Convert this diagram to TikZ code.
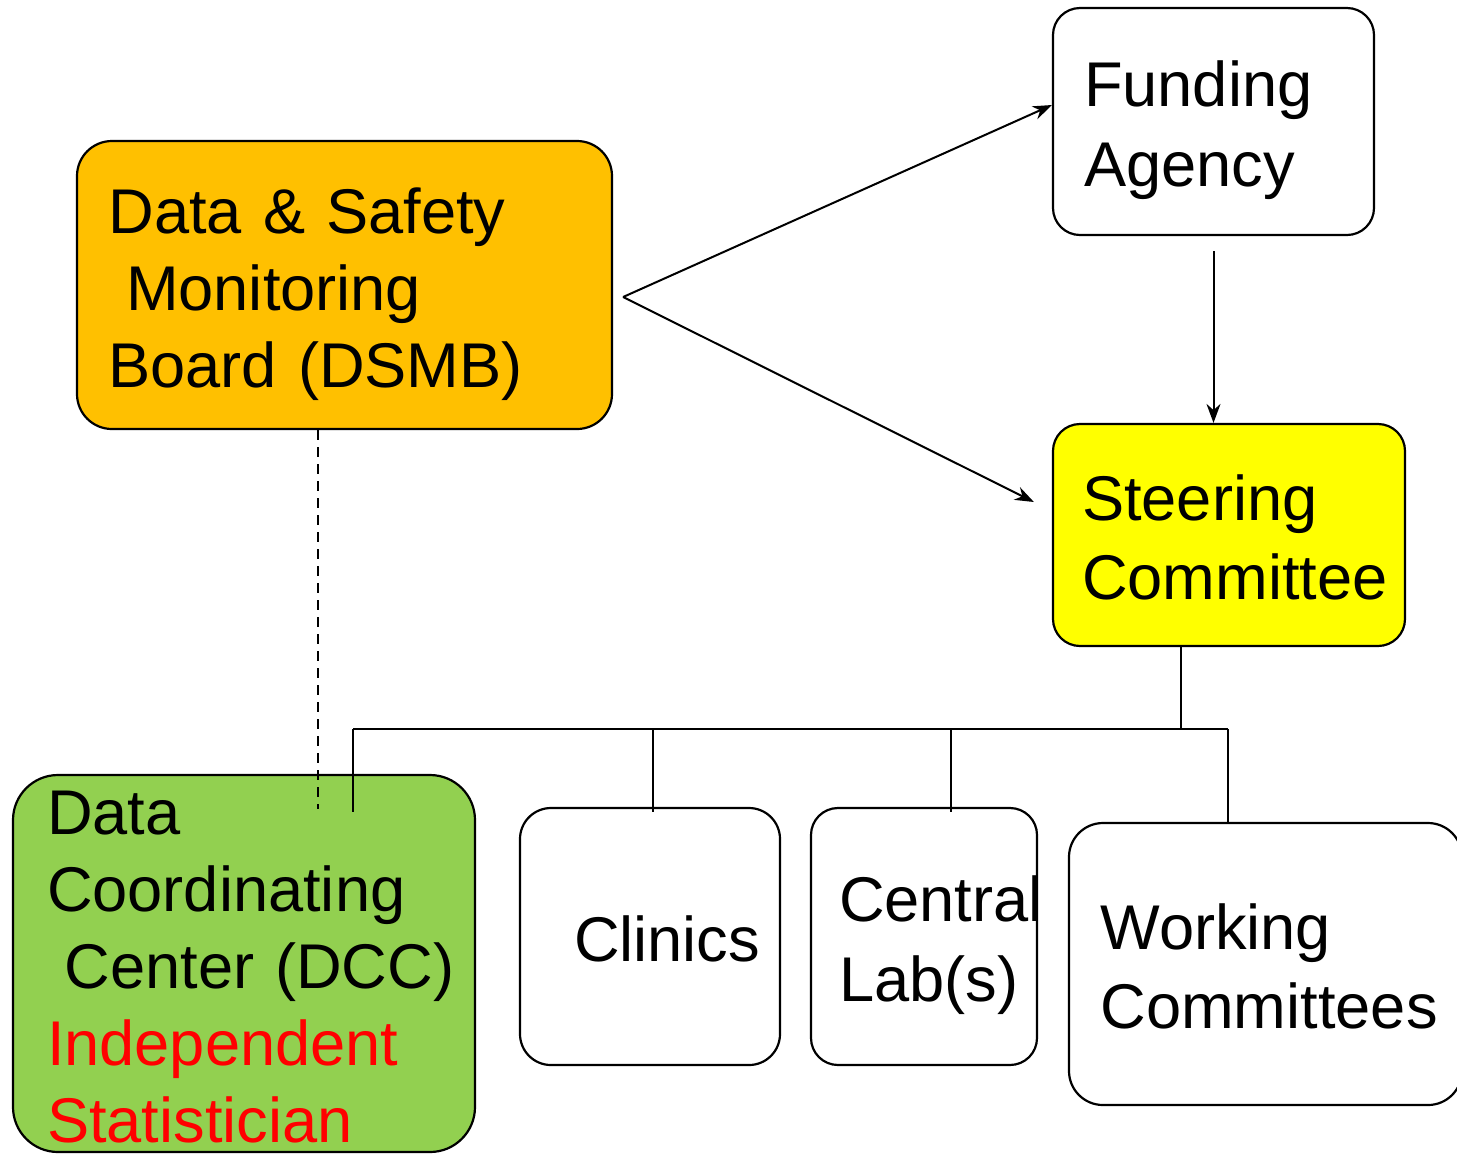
\documentclass[tikz,border=0pt]{standalone}
\usepackage{fontspec}
\setmainfont{Liberation Sans}
\usetikzlibrary{arrows.meta}
\definecolor{dsmbC}{HTML}{FFC000}
\definecolor{steerC}{HTML}{FFFF00}
\definecolor{dccC}{HTML}{92D050}
\definecolor{statC}{HTML}{FF0000}
\newcommand\ppstrut{\rule[-6.8pt]{0pt}{38.7pt}}
\tikzset{
    RB/.style ={rectangle, rounded corners=13.5pt, draw, line width=1.1pt, align=left, inner sep=0pt,
                font=\fontsize{31.6}{38.5}\selectfont,
                execute at begin node=\ppstrut, execute at end node=\ppstrut},
    AR/.style ={-{Stealth[length=9.5pt,width=7pt]}, line width=1pt},
    LN/.style ={line width=1pt}}
\begin{document}
\begin{tikzpicture}[x=0.5pt,y=-0.5pt]
        \useasboundingbox (0,0) rectangle (1457,1153);
        \clip (0,0) rectangle (1457,1153);
        \node[RB, fill=dsmbC, rounded corners=17.5pt, minimum width=267.5pt, minimum height=144pt, text width=236pt]
            (dsmb) at (344.5,285) {\mbox{Data \& Safety}\\\hspace*{0.278em}Monitoring\\\mbox{Board (DSMB)}};
        \node[RB, fill=white, minimum width=160.5pt, minimum height=113.5pt, text width=129.5pt]
            (funding) at (1213.5,121.5) {Funding\\Agency};
        \node[RB, fill=steerC, minimum width=176pt, minimum height=111pt, text width=147pt]
            (steering) at (1229,535) {Steering\\Committee};
        \node[RB, fill=dccC, rounded corners=22.5pt, inner ysep=-6pt, minimum width=231pt, minimum height=188.5pt, text width=197pt]
            (dcc) at (244,963.5) {Data\\Coordinating\\\hspace*{0.278em}\mbox{Center (DCC)}\\\textcolor{statC}{Independent}\\\textcolor{statC}{Statistician}};
        \node[RB, fill=white, rounded corners=15.5pt, minimum width=130pt, minimum height=128.5pt, text width=76pt]
            (clinics) at (650,936.5) {Clinics};
        \node[RB, fill=white, minimum width=113pt, minimum height=128.5pt, text width=85pt]
            (labs) at (924,936.5) {Central\\Lab(s)};
        \node[RB, fill=white, rounded corners=17pt, minimum width=196.5pt, minimum height=141pt, text width=165pt]
            (working) at (1265.5,964) {Working\\Committees};
        % DSMB reports
        \coordinate (fork) at ([shift={(10,12)}]dsmb.east);
        \draw[AR] (fork) -- ([yshift=8.25pt]funding.west);
        \draw[AR] (fork) -- ([shift={(-18,-33)}]steering.west);
        \draw[AR] ([yshift=-7.5pt]funding.south) -- (funding.south |- steering.north);
        \draw[LN, dashed, dash pattern=on 5pt off 3.5pt] ([xshift=-13.25pt]dsmb.south) -- ++(0,379);
        % tree below the steering committee
        \coordinate (bus) at (1181,729);
        \coordinate (jdcc) at (353,729);
        \coordinate (jclin) at (653,729);
        \coordinate (jlab) at (951,729);
        \coordinate (jwork) at (1228,729);
        \draw[LN] (steering.south -| bus) -- (bus);
        \draw[LN] (jdcc) -- (jwork);
        \draw[LN] (jdcc) -- ++(0,83);
        \draw[LN] (jclin) -- ++(0,83);
        \draw[LN] (jlab) -- ++(0,83);
        \draw[LN] (jwork) -- (jwork |- working.north);
    \end{tikzpicture}
\end{document}
